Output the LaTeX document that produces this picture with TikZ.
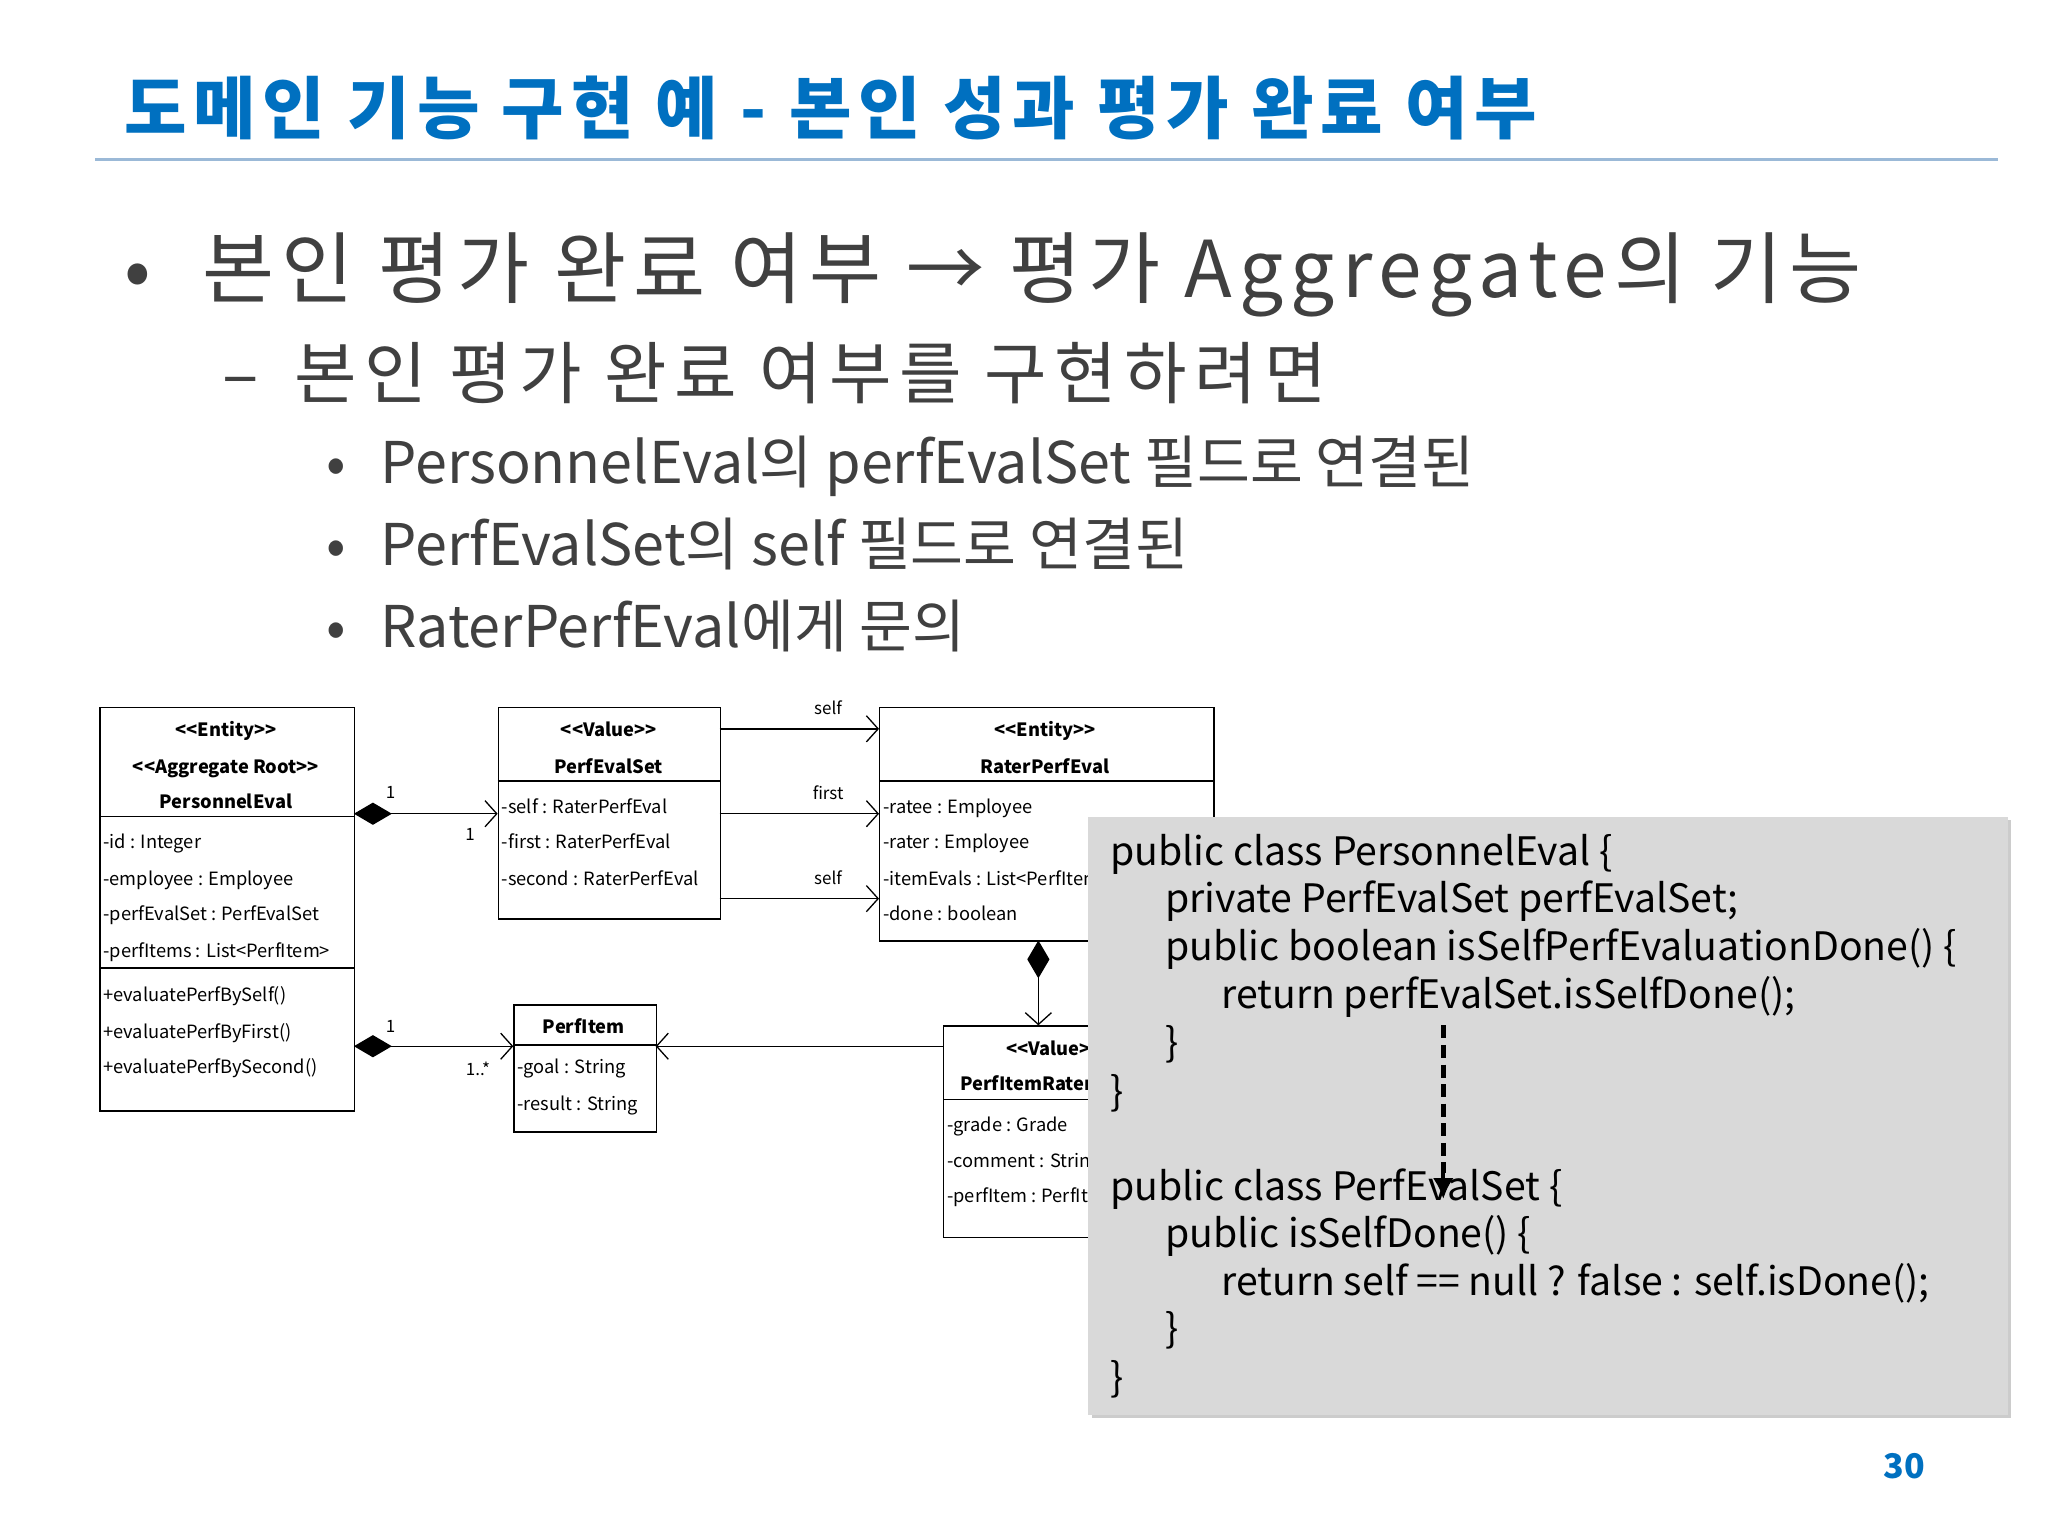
\documentclass[tikz,border=0pt]{standalone}
\usepackage{fontspec}
\setmainfont{Noto Sans CJK KR}
\usetikzlibrary{arrows.meta}
\definecolor{ttl}{RGB}{0,112,192}
\definecolor{bodyc}{RGB}{64,64,64}
\definecolor{rule}{RGB}{155,185,215}
\definecolor{codebg}{RGB}{217,217,217}
\newcommand{\stL}{{<}{<}}
\newcommand{\stR}{{>}{>}}
\tikzset{
 uml/.style={draw,line width=1.1pt,anchor=north west,inner sep=0pt},
 ut/.style={anchor=base west,inner sep=0pt,font=\fontsize{14}{16}\selectfont},
 uh/.style={anchor=base,inner sep=0pt,font=\fontsize{14}{16}\selectfont\bfseries},
 lbl/.style={inner sep=0pt,font=\fontsize{13}{15}\selectfont},
 ct/.style={anchor=base west,inner sep=0pt,font=\fontsize{30}{32}\selectfont},
 comp/.style={line width=1.1pt,{Diamond[length=29pt,width=17pt]}-{Straight Barb[length=9pt,width=20pt,line width=1pt]}},
 asc/.style={line width=1.1pt,-{Straight Barb[length=9pt,width=20pt,line width=1pt]}},
 bt/.style={anchor=base west,inner sep=0pt,text=bodyc}
}
\begin{document}
\begin{tikzpicture}[x=1pt,y=-1pt]
\useasboundingbox[fill=white] (0,0) rectangle (1568,1176);
% title
\node[anchor=base west,inner sep=0pt,text=ttl,font=\fontsize{52}{56}\selectfont\bfseries\addfontfeatures{LetterSpace=10}] (title) at (95,102) {도메인 기능 구현 예 - 본인 성과 평가 완료 여부};
\draw[rule,line width=2.5pt] (73,122) coordinate (r1) -- (1530,122) coordinate (r2);
% bullets
\node[bt,font=\fontsize{60}{64}\selectfont] (b0) at (95,228) {•};
\node[bt,font=\fontsize{60}{64}\selectfont\addfontfeatures{LetterSpace=9}] (b1) at (155,228) {본인 평가 완료 여부 → 평가 Aggregate의 기능};
\node[bt,font=\fontsize{52}{56}\selectfont] (b2d) at (170,305) {–};
\node[bt,font=\fontsize{52}{56}\selectfont\addfontfeatures{LetterSpace=11}] (b2) at (225,305) {본인 평가 완료 여부를 구현하려면};
\foreach \y/\t/\n in {370/PersonnelEval의 perfEvalSet 필드로 연결된/s1, 433/PerfEvalSet의 self 필드로 연결된/s2, 496/RaterPerfEval에게 문의/s3}{
 \node[bt,font=\fontsize{44}{48}\selectfont] (\n d) at (250,\y) {•};
 \node[bt,font=\fontsize{44}{48}\selectfont] (\n) at (291,\y) {\t};
}
% PersonnelEval
\node[uml,minimum width=195pt,minimum height=309pt] (pe) at (76,541) {};
\draw[line width=1.1pt] (76,625) -- (271,625) (76,741) -- (271,741);
\node[uh] (pe1) at (173,564) {\stL Entity\stR};
\node[uh] (pe2) at (173,592) {\stL Aggregate Root\stR};
\node[uh] (pe3) at (173,619) {PersonnelEval};
\foreach \y/\t [count=\i] in {650/-id : Integer,678/-employee : Employee,705/-perfEvalSet : PerfEvalSet,733/-perfItems : List<PerfItem>,767/+evaluatePerfBySelf(),795/+evaluatePerfByFirst(),822/+evaluatePerfBySecond()}
 \node[ut] (pa\i) at (79,\y) {\t};
% PerfEvalSet
\node[uml,minimum width=170pt,minimum height=162pt] (pes) at (381,541) {};
\draw[line width=1.1pt] (381,598) -- (551,598);
\node[uh] (pes1) at (466,564) {\stL Value\stR};
\node[uh] (pes2) at (466,592) {PerfEvalSet};
\foreach \y/\t [count=\i] in {623/-self : RaterPerfEval,650/-first : RaterPerfEval,678/-second : RaterPerfEval}
 \node[ut] (psa\i) at (384,\y) {\t};
% RaterPerfEval
\node[uml,minimum width=256pt,minimum height=179pt] (rpe) at (673,541) {};
\draw[line width=1.1pt] (673,598) -- (929,598);
\node[uh] (rpe1) at (800,564) {\stL Entity\stR};
\node[uh] (rpe2) at (800,592) {RaterPerfEval};
\foreach \y/\t [count=\i] in {623/-ratee : Employee,650/-rater : Employee,678/-itemEvals : List<PerfItem>,705/-done : boolean}
 \node[ut] (ra\i) at (676,\y) {\t};
% PerfItem
\node[uml,minimum width=109pt,minimum height=97pt] (pi) at (393,769) {};
\draw[line width=1.1pt] (393,800) -- (502,800);
\node[uh] (pi1) at (447,791) {PerfItem};
\node[ut] (pia1) at (396,822) {-goal : String};
\node[ut] (pia2) at (396,850) {-result : String};
% PerfItemRater
\node[uml,minimum width=170pt,minimum height=162pt] (pir) at (722,785) {};
\draw[line width=1.1pt] (722,842) -- (892,842);
\node[uh] (pir1) at (807,808) {\stL Value\stR};
\node[uh] (pir2) at (786,835) {PerfItemRater};
\foreach \y/\t [count=\i] in {866/-grade : Grade,894/-comment : String,921/-perfItem : PerfItem}
 \node[ut] (pra\i) at (725,\y) {\t};
% connectors
\draw[comp] (271,623) coordinate (c1a) -- (381,623) coordinate (c1b);
\node[lbl] (l1) at (299,607) {1};
\node[lbl] (l2) at (360,639) {1};
\draw[asc] (551,558) coordinate (c2a) -- (673,558) coordinate (c2b);
\node[lbl] (l3) at (634,542) {self};
\draw[asc] (551,623) coordinate (c3a) -- (673,623) coordinate (c3b);
\node[lbl] (l4) at (634,607) {first};
\draw[asc] (551,688) coordinate (c4a) -- (673,688) coordinate (c4b);
\node[lbl] (l5) at (634,672) {self};
\draw[comp] (271,801) coordinate (c5a) -- (393,801) coordinate (c5b);
\node[lbl] (l6) at (299,786) {1};
\node[lbl] (l7) at (366,818) {1..*};
\draw[asc] (722,801) coordinate (c6a) -- (502,801) coordinate (c6b);
\draw[comp] (795,720) coordinate (c7a) -- (795,785) coordinate (c7b);
% code box
\fill[black!20] (836,628) rectangle (1540,1086);
\node[fill=codebg,anchor=north west,minimum width=704pt,minimum height=458pt,inner sep=0pt] (code) at (833,625) {};
\foreach \x/\y/\t [count=\i] in {850/663/public class PersonnelEval \{,892/699/private PerfEvalSet perfEvalSet;,892/735/public boolean isSelfPerfEvaluationDone() \{,935/772/return perfEvalSet.isSelfDone();,892/809/\},850/846/\},850/919/public class PerfEvalSet \{,892/955/public isSelfDone() \{,935/992/return self == null ? false : self.isDone();,892/1028/\},850/1065/\}}
 \node[ct] (cl\i) at (\x,\y) {\t};
\coordinate (d1) at (1105,785);
\coordinate (d2) at (1105,918);
\coordinate (d3) at (1105,898);
\draw[line width=4pt,dash pattern=on 10pt off 5pt] (d1) -- (d3);
\draw[line width=3pt,-{Latex[length=16pt,width=16pt]}] (d3) -- (d2);
\node[anchor=base,inner sep=0pt,text=ttl,font=\fontsize{26}{28}\selectfont\bfseries] (pg) at (1458,1132) {30};
\end{tikzpicture}
\end{document}
